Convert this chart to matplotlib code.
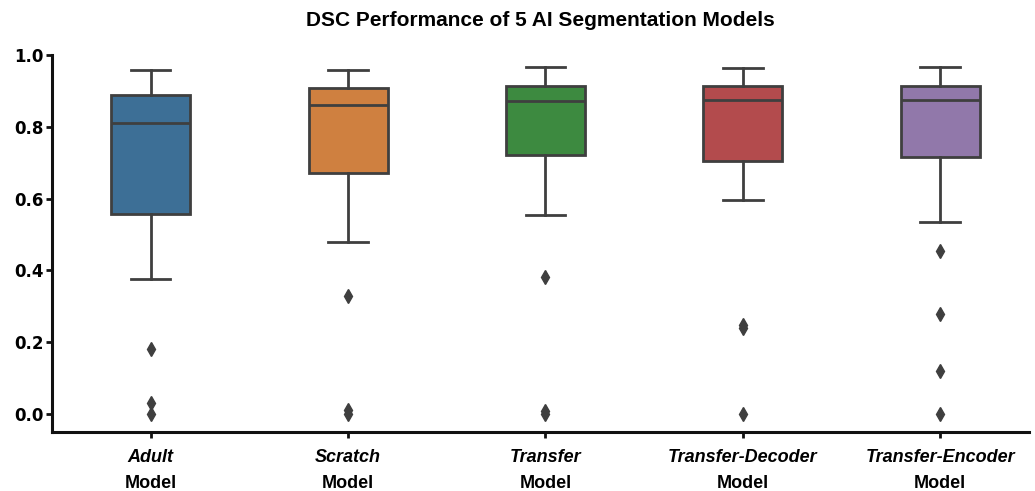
import matplotlib
matplotlib.use("Agg")
import matplotlib.pyplot as plt

# Values (box summaries per model)
models = ["Adult", "Scratch", "Transfer", "Transfer-Decoder", "Transfer-Encoder"]
whisker_hi = [0.957, 0.957, 0.967, 0.963, 0.967]
q3 = [0.888, 0.908, 0.913, 0.913, 0.913]
median = [0.811, 0.861, 0.871, 0.876, 0.876]
q1 = [0.558, 0.672, 0.721, 0.706, 0.715]
whisker_lo = [0.376, 0.479, 0.555, 0.597, 0.534]
outliers = [
    [0.181, 0.032, 0.0],
    [0.328, 0.012, 0.0],
    [0.381, 0.009, 0.0],
    [0.248, 0.240, 0.0],
    [0.453, 0.279, 0.119, 0.0],
]

colors = ["#3d6f96", "#cf8040", "#3d8a40", "#b34b4d", "#9178aa"]
line_c = "#3f3f3f"

stats = []
for i, name in enumerate(models):
    stats.append(dict(label=name, med=median[i], q1=q1[i], q3=q3[i],
                      whislo=whisker_lo[i], whishi=whisker_hi[i],
                      fliers=outliers[i]))

fig = plt.figure(figsize=(10.35, 4.91), dpi=100)
ax = fig.add_axes([52 / 1035, 1 - 432 / 491, 977 / 1035, 377 / 491])

lw = 2.0
bp = ax.bxp(stats, positions=range(len(models)), widths=0.4, patch_artist=True,
            boxprops=dict(edgecolor=line_c, linewidth=lw),
            medianprops=dict(color=line_c, linewidth=lw),
            whiskerprops=dict(color=line_c, linewidth=lw),
            capprops=dict(color=line_c, linewidth=lw),
            flierprops=dict(marker="d", markerfacecolor=line_c,
                            markeredgecolor=line_c, markersize=7, linestyle="none"))
for patch, c in zip(bp["boxes"], colors):
    patch.set_facecolor(c)

ax.set_xlim(-0.5, 4.45)
ax.set_ylim(-0.05, 1.0)
ax.set_yticks([0.0, 0.2, 0.4, 0.6, 0.8, 1.0])
ax.set_yticklabels(["0.0", "0.2", "0.4", "0.6", "0.8", "1.0"],
                   fontsize=12, fontweight="bold", family="DejaVu Sans")
ax.set_xticks(range(len(models)))
ax.set_xticklabels([])

for side in ["top", "right"]:
    ax.spines[side].set_visible(False)
for side in ["left", "bottom"]:
    ax.spines[side].set_linewidth(2.2)
    ax.spines[side].set_color("#111111")
ax.tick_params(axis="both", length=4, width=2, color="#111111", pad=2)

# two-line category labels: italic model name, then "Model"
for i, name in enumerate(models):
    ax.annotate(name, xy=(i, 0), xycoords=ax.get_xaxis_transform(),
                xytext=(0, -26 * 0.72), textcoords="offset points",
                ha="center", va="center", fontsize=13, fontweight="bold",
                fontstyle="italic", family="Liberation Sans")
    ax.annotate("Model", xy=(i, 0), xycoords=ax.get_xaxis_transform(),
                xytext=(0, -51 * 0.72), textcoords="offset points",
                ha="center", va="center", fontsize=13, fontweight="bold",
                family="Liberation Sans")

ax.text(0.5, 1 + 35 / 377, "DSC Performance of 5 AI Segmentation Models",
        transform=ax.transAxes, ha="center", va="center",
        fontsize=15, fontweight="bold", family="Liberation Sans")

fig.savefig("out.png", dpi=100)
